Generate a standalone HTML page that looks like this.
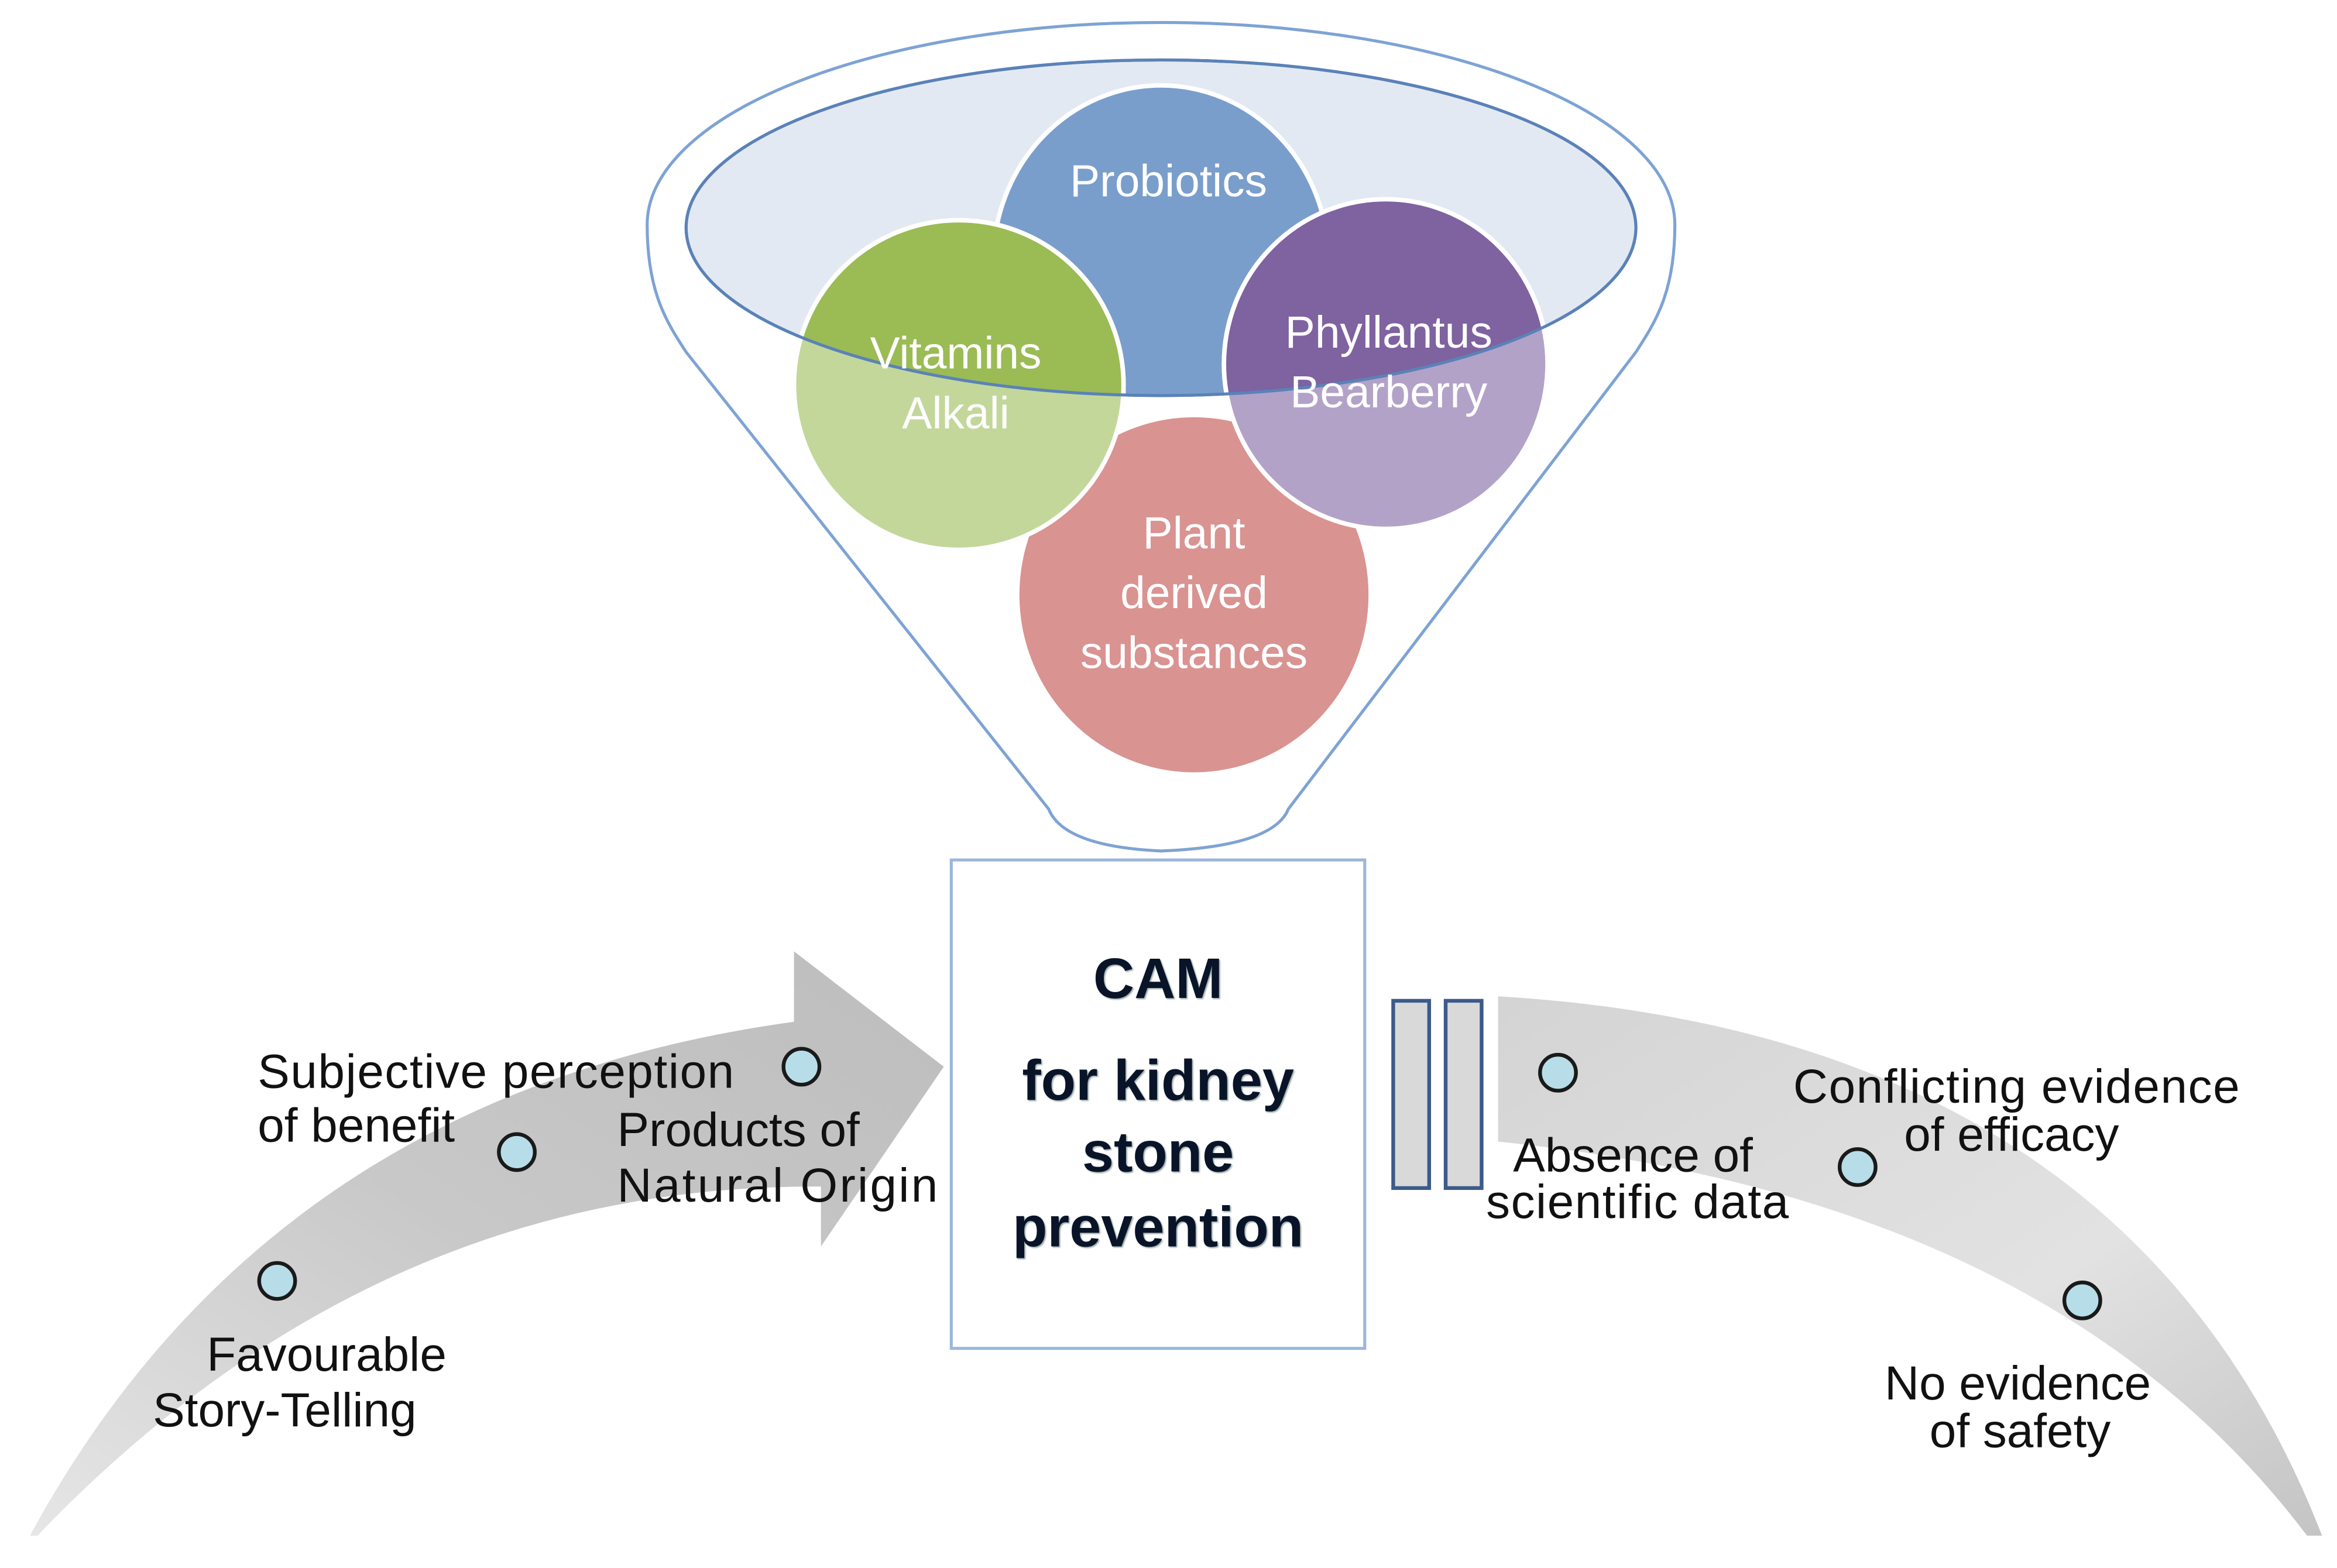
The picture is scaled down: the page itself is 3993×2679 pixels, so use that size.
<!DOCTYPE html>
<html><head><style>html,body{margin:0;padding:0;background:#fff}svg{display:block}</style></head>
<body>
<svg width="3993" height="2679" viewBox="0 0 1560 1046.6" preserveAspectRatio="none" xmlns="http://www.w3.org/2000/svg" font-family="Liberation Sans, sans-serif">
<defs>
<clipPath id="inner"><ellipse cx="775" cy="152" rx="317" ry="112"/></clipPath>
<linearGradient id="gl" x1="0" y1="1" x2="1" y2="0"><stop offset="0" stop-color="#e6e6e6"/><stop offset="0.5" stop-color="#c8c8c8"/><stop offset="1" stop-color="#bdbdbd"/></linearGradient>
<linearGradient id="gr" x1="0" y1="0" x2="1" y2="1"><stop offset="0" stop-color="#d4d4d4"/><stop offset="0.6" stop-color="#e2e2e2"/><stop offset="1" stop-color="#c4c4c4"/></linearGradient>
</defs>
<path d="M432,150 A343,135 0 0 1 1118,150 C1118,195 1105,215 1092,235 L860,540 Q850,565 775,568 Q710,565 700,540 L458,235 C445,215 432,195 432,150 Z" fill="#fff" stroke="#7ea3d4" stroke-width="2"/>
<ellipse cx="775" cy="152" rx="317" ry="112" fill="#e3e9f3" stroke="#5a82b8" stroke-width="2"/>
<g stroke="#fff" stroke-width="3">
<ellipse cx="775" cy="175" rx="112" ry="118" fill="#7a9ecb" clip-path="url(#inner)"/>
<ellipse cx="797" cy="397" rx="118" ry="120" fill="#d99391"/>
<ellipse cx="640" cy="257" rx="110" ry="110" fill="#c3d79b"/>
<ellipse cx="925" cy="243" rx="108" ry="110" fill="#b2a2c8"/>
</g>
<g clip-path="url(#inner)">
<ellipse cx="640" cy="257" rx="110" ry="110" fill="#9bbb55" stroke="#fff" stroke-width="3"/>
<ellipse cx="925" cy="243" rx="108" ry="110" fill="#7f62a0" stroke="#fff" stroke-width="3"/>
</g>
<ellipse cx="775" cy="152" rx="317" ry="112" fill="none" stroke="#5a82b8" stroke-width="2"/>
<g fill="#fff" font-size="30" text-anchor="middle">
<text x="780" y="131">Probiotics</text>
<text x="638" y="246">Vitamins</text>
<text x="638" y="286">Alkali</text>
<text x="927" y="232">Phyllantus</text>
<text x="927" y="272">Bearberry</text>
<text x="797" y="366">Plant</text>
<text x="797" y="406">derived</text>
<text x="797" y="446">substances</text>
</g>
<path d="M20,1025 Q180,730 530,682 L530,635 L630,712 L548,832 L548,792 Q250,790 25,1025 Z" fill="url(#gl)"/>
<path d="M1000,665 Q1420,690 1550,1025 L1540,1025 Q1370,800 1000,762 Z" fill="url(#gr)"/>
<rect x="635" y="574" width="276" height="326" fill="#fff" stroke="#9cb6dc" stroke-width="2"/>
<g font-weight="bold" font-size="38" text-anchor="middle" fill="#0a1428" style="text-shadow:2px 2px 2px #9aa">
<text x="773" y="666">CAM</text>
<text x="773" y="734">for kidney</text>
<text x="773" y="782">stone</text>
<text x="773" y="832">prevention</text>
</g>
<rect x="930" y="668" width="24" height="125" fill="#d9d9d9" stroke="#3c5a8a" stroke-width="2.5"/>
<rect x="965" y="668" width="24" height="125" fill="#d9d9d9" stroke="#3c5a8a" stroke-width="2.5"/>
<g fill="#b7dde8" stroke="#1a1a1a" stroke-width="2.5">
<circle cx="535" cy="712" r="12"/><circle cx="345" cy="769" r="12"/><circle cx="185" cy="855" r="12"/>
<circle cx="1040" cy="716" r="12"/><circle cx="1240" cy="779" r="12"/><circle cx="1390" cy="868" r="12"/>
</g>
<g font-size="32" fill="#111">
<text x="172" y="726" textLength="318">Subjective perception</text>
<text x="172" y="762">of benefit</text>
<text x="412" y="765">Products of</text>
<text x="412" y="802" textLength="214">Natural  Origin</text>
<text x="138" y="915">Favourable</text>
<text x="102" y="952">Story-Telling</text>
<text x="1010" y="782">Absence of</text>
<text x="992" y="813" textLength="202">scientific data</text>
<text x="1197" y="736" textLength="298">Conflicting evidence</text>
<text x="1271" y="768">of efficacy</text>
<text x="1258" y="934">No evidence</text>
<text x="1288" y="966">of safety</text>
</g>
</svg>
</body></html>
